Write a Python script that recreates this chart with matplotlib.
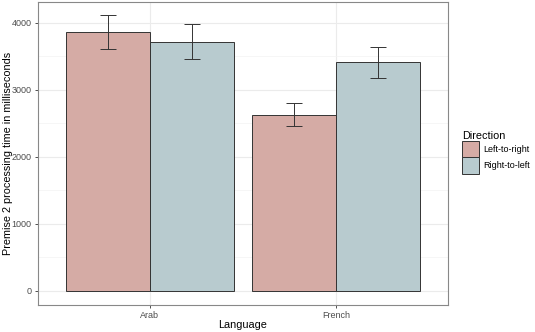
import numpy as np
import matplotlib.pyplot as plt
from matplotlib.patches import Patch

plt.rcParams['font.family'] = ['Liberation Sans', 'DejaVu Sans']

# data
languages = ['Arab', 'French']
directions = ['Left-to-right', 'Right-to-left']
means = {
    'Left-to-right': [3860, 2627],
    'Right-to-left': [3721, 3413],
}
lower = {
    'Left-to-right': [3612, 2458],
    'Right-to-left': [3463, 3179],
}
upper = {
    'Left-to-right': [4115, 2806],
    'Right-to-left': [3980, 3642],
}
colors = {'Left-to-right': '#d5aba5', 'Right-to-left': '#b8cbcf'}

fig = plt.figure(figsize=(5.35, 3.32), dpi=100)
ax = fig.add_axes([38 / 535, 1 - 305 / 332, 410 / 535, 303 / 332])

x = np.arange(1, len(languages) + 1)
bw = 0.45
for i, d in enumerate(directions):
    pos = x + (i - 0.5) * bw
    m = np.array(means[d])
    ax.bar(pos, m, width=bw, color=colors[d], edgecolor='#333333', linewidth=0.7, zorder=2)
    yerr = [m - np.array(lower[d]), np.array(upper[d]) - m]
    ax.errorbar(pos, m, yerr=yerr, fmt='none', ecolor='#333333', elinewidth=0.7,
                capsize=5.5, capthick=0.7, zorder=3)

ax.set_xlim(0.4, 2.6)
ax.set_ylim(-209, 4313)
ax.set_xticks(x)
ax.set_xticklabels(languages)
ax.set_yticks([0, 1000, 2000, 3000, 4000])
ax.set_yticks([500, 1500, 2500, 3500], minor=True)
ax.grid(True, which='major', color='#ebebeb', linewidth=0.8, zorder=0)
ax.grid(True, which='minor', axis='y', color='#f3f3f3', linewidth=0.5, zorder=0)
ax.set_axisbelow(True)
ax.tick_params(axis='both', which='major', length=2.5, width=0.6, color='#333333',
               labelsize=6.5, labelcolor='#4d4d4d', pad=2)
ax.tick_params(which='minor', length=0)
for s in ax.spines.values():
    s.set_color('#888888')
    s.set_linewidth(0.8)

ax.set_xlabel('Language', fontsize=7.8, labelpad=0)
ax.set_ylabel('Premise 2 processing time in milliseconds', fontsize=7.8)
ax.yaxis.set_label_coords(-0.062, 0.5)

handles = [Patch(facecolor=colors[d], edgecolor='#333333', linewidth=0.7) for d in directions]
leg = fig.legend(handles, directions, title='Direction', loc='upper left',
                 bbox_to_anchor=(462 / 535, 1 - 131 / 332), frameon=False,
                 fontsize=6.5, title_fontsize=7.8, handlelength=1.9, handleheight=2.4,
                 handletextpad=0.45, labelspacing=0.0, borderaxespad=0, borderpad=0)
leg._legend_box.align = 'left'

fig.savefig('out.png', dpi=100)
